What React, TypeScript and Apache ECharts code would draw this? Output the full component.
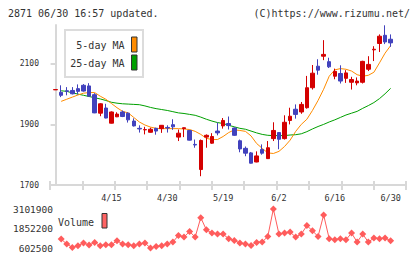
import React, { useEffect, useRef } from "react";
import * as echarts from "echarts";

// Trading days; index 0 is the carry-over day drawn left of the first full day.
const dates = [
  "4/1",
  "4/2", "4/3", "4/4", "4/7", "4/8", "4/9", "4/10", "4/11", "4/14", "4/15",
  "4/16", "4/17", "4/18", "4/21", "4/22", "4/23", "4/24", "4/25", "4/28", "4/30",
  "5/1", "5/2", "5/7", "5/8", "5/9", "5/12", "5/13", "5/14", "5/15", "5/19",
  "5/20", "5/21", "5/22", "5/23", "5/26", "5/27", "5/28", "5/29", "5/30", "6/2",
  "6/3", "6/4", "6/5", "6/6", "6/9", "6/10", "6/11", "6/12", "6/13", "6/16",
  "6/17", "6/18", "6/19", "6/20", "6/23", "6/24", "6/25", "6/26", "6/27", "6/30",
];

const opens = [
  2014,
  2006, 2011, 2012, 2018, 2029, 2027, 1998, 1937, 1954, 1904,
  1925, 1941, 1937, 1911, 1887, 1882, 1874, 1887, 1886, 1890,
  1899, 1858, 1886, 1880, 1834, 1751, 1858, 1838, 1878, 1895,
  1903, 1888, 1846, 1821, 1806, 1776, 1817, 1787, 1853, 1873,
  1853, 1913, 1950, 1941, 1955, 2021, 2092, 2125, 2107, 2059,
  2068, 2052, 2039, 2037, 2039, 2082, 2146, 2167, 2194, 2181,
];
const closes = [
  2015,
  1996, 2009, 2001, 2009, 2010, 1993, 1938, 1968, 1921, 1941,
  1934, 1926, 1915, 1895, 1885, 1883, 1884, 1878, 1897, 1888,
  1892, 1871, 1889, 1848, 1832, 1847, 1864, 1860, 1872, 1913,
  1896, 1864, 1819, 1805, 1772, 1796, 1805, 1823, 1880, 1851,
  1907, 1927, 1933, 1966, 2021, 2069, 2079, 2131, 2090, 2075,
  2043, 2070, 2048, 2043, 2108, 2098, 2148, 2191, 2172, 2169,
];
const lows = [
  2014,
  1990, 1996, 1999, 1999, 2008, 1993, 1937, 1927, 1920, 1903,
  1924, 1924, 1906, 1893, 1873, 1867, 1873, 1866, 1872, 1873,
  1882, 1845, 1858, 1847, 1823, 1729, 1823, 1836, 1864, 1886,
  1883, 1862, 1808, 1795, 1771, 1775, 1800, 1786, 1845, 1818,
  1850, 1900, 1919, 1935, 1952, 2015, 2064, 2112, 2086, 2049,
  2035, 2037, 2015, 2029, 2035, 2076, 2109, 2139, 2165, 2156,
];
const highs = [
  2015,
  2029, 2023, 2023, 2032, 2033, 2036, 2003, 1970, 1968, 1943,
  1940, 1946, 1940, 1920, 1897, 1892, 1889, 1889, 1898, 1897,
  1917, 1883, 1890, 1882, 1850, 1850, 1867, 1871, 1906, 1921,
  1926, 1890, 1850, 1827, 1809, 1811, 1834, 1845, 1907, 1874,
  1930, 1955, 1966, 1974, 2060, 2096, 2115, 2178, 2120, 2084,
  2095, 2079, 2057, 2055, 2110, 2125, 2158, 2197, 2227, 2197,
];

// Moving averages and volume start on the first full day (index 1).
const ma5 = [
  1976, 1983, 1990, 1997, 2003, 2005, 2005, 1993, 1983, 1969,
  1955, 1943, 1938, 1923, 1908, 1898, 1891, 1887, 1886, 1886,
  1886, 1886, 1885, 1883, 1877, 1867, 1854, 1850, 1850, 1860,
  1873, 1882, 1880, 1877, 1862, 1837, 1821, 1806, 1804, 1811,
  1827, 1848, 1877, 1900, 1917, 1946, 1979, 2016, 2059, 2080,
  2084, 2082, 2076, 2064, 2059, 2062, 2072, 2103, 2135, 2160,
];
const ma25 = [
  2011, 2009, 2004, 2000, 1996, 1992, 1988, 1984, 1979, 1973,
  1970, 1968, 1967, 1966, 1965, 1961, 1956, 1952, 1949, 1946,
  1942, 1938, 1936, 1933, 1930, 1924, 1917, 1911, 1906, 1903,
  1897, 1892, 1887, 1884, 1878, 1872, 1867, 1864, 1863, 1863,
  1863, 1865, 1866, 1869, 1876, 1885, 1893, 1900, 1908, 1915,
  1923, 1931, 1937, 1943, 1953, 1962, 1972, 1985, 2001, 2019,
];
const volumes = [
  1175000, 857000, 640000, 749000, 920000, 793000, 959000, 749000, 812000, 812000,
  1067000, 857000, 812000, 749000, 857000, 920000, 602500, 704000, 749000, 857000,
  984000, 1404000, 1302000, 1658000, 1302000, 2549000, 1766000, 1556000, 1493000, 1493000,
  1194000, 1086000, 920000, 857000, 768000, 959000, 984000, 1340000, 3101900, 1493000,
  1556000, 1620000, 1302000, 1493000, 2040000, 1703000, 1340000, 2720000, 1194000, 1130000,
  1194000, 1130000, 1556000, 984000, 1493000, 984000, 1238000, 1194000, 1238000, 1067000,
];

const priceTicks = [1700, 1900, 2100];
const volumeTicks = [602500, 1852200, 3101900];
const dateLabelIdx = [10, 20, 30, 40, 50, 60];

const UP = "#d40000";
const DOWN = "#4242bd";
const MA5_COLOR = "#ff8c00";
const MA25_COLOR = "#00a000";
const VOL_COLOR = "#ff5c5c";
const AXIS = "#d8d8d8";
const TEXT = "#333";
const MONO = '"DejaVu Sans Mono", "Liberation Mono", monospace';

const X_MIN = -1;
const X_MAX = 62.75;
const xTicks = Array.from({ length: 12 }, (_, k) => X_MIN + (k * (X_MAX - X_MIN)) / 11);

const plain = (v: number) => String(Math.round(v));

export default function App() {
  const ref = useRef<HTMLDivElement>(null);

  useEffect(() => {
    if (!ref.current) return;
    const chart = echarts.init(ref.current, undefined, { renderer: "svg" });

    const candles = dates.map((_, i) => [i, opens[i], closes[i], lows[i], highs[i]]);
    const ma5Data = ma5.map((v, i) => [i + 1, v]);
    const ma25Data = ma25.map((v, i) => [i + 1, v]);
    const volData = volumes.map((v, i) => [i + 1, v]);

    chart.setOption({
      animation: false,
      backgroundColor: "#fff",
      grid: [
        { left: 50, top: 25, width: 356, height: 160 },
        { left: 50, top: 209, width: 356, height: 39 },
      ],
      xAxis: [
        {
          type: "value",
          gridIndex: 0,
          min: X_MIN,
          max: X_MAX,
          axisLine: { show: true, lineStyle: { color: AXIS, width: 2 } },
          axisTick: { show: true, customValues: xTicks, length: 5, lineStyle: { color: AXIS, width: 2 } },
          axisLabel: {
            customValues: dateLabelIdx,
            formatter: (v: number) => dates[Math.round(v)] ?? "",
            fontFamily: MONO,
            fontSize: 8.5,
            color: TEXT,
            margin: 8,
          },
          splitLine: { show: false },
        },
        {
          type: "value",
          gridIndex: 0,
          min: X_MIN,
          max: X_MAX,
          position: "bottom",
          axisLine: { show: false },
          axisTick: { show: true, inside: true, customValues: xTicks, length: 4, lineStyle: { color: AXIS, width: 2 } },
          axisLabel: { show: false },
          splitLine: { show: false },
        },
        {
          type: "value",
          gridIndex: 1,
          min: X_MIN,
          max: X_MAX,
          show: false,
        },
      ],
      yAxis: [
        {
          type: "value",
          gridIndex: 0,
          min: 1700,
          max: 2228,
          axisLine: { show: true, lineStyle: { color: AXIS, width: 2 } },
          axisTick: { show: true, customValues: priceTicks, length: 5, lineStyle: { color: AXIS, width: 2 } },
          axisLabel: {
            customValues: priceTicks,
            formatter: plain,
            fontFamily: MONO,
            fontSize: 8,
            color: TEXT,
            margin: 11,
          },
          splitLine: { show: false },
        },
        {
          type: "value",
          gridIndex: 0,
          min: 1700,
          max: 2228,
          axisLine: { show: false },
          axisTick: { show: true, inside: true, customValues: priceTicks, length: 3, lineStyle: { color: AXIS, width: 2 } },
          axisLabel: { show: false },
          splitLine: { show: false },
        },
        {
          type: "value",
          gridIndex: 1,
          min: 602500,
          max: 3101900,
          axisLine: { show: false },
          axisTick: { show: false },
          axisLabel: {
            customValues: volumeTicks,
            formatter: plain,
            fontFamily: MONO,
            fontSize: 9.5,
            color: TEXT,
            margin: -3,
          },
          splitLine: { show: false },
        },
      ],
      series: [
        {
          type: "candlestick",
          xAxisIndex: 0,
          yAxisIndex: 0,
          data: candles,
          encode: { x: 0, y: [1, 2, 3, 4] },
          barWidth: 4,
          itemStyle: {
            color: UP,
            color0: DOWN,
            borderColor: UP,
            borderColor0: DOWN,
            borderWidth: 1,
          },
        },
        {
          type: "line",
          xAxisIndex: 0,
          yAxisIndex: 0,
          data: ma25Data,
          showSymbol: false,
          lineStyle: { color: MA25_COLOR, width: 1 },
          z: 1,
        },
        {
          type: "line",
          xAxisIndex: 0,
          yAxisIndex: 0,
          data: ma5Data,
          showSymbol: false,
          lineStyle: { color: MA5_COLOR, width: 1 },
          z: 1,
        },
        {
          type: "line",
          xAxisIndex: 2,
          yAxisIndex: 2,
          data: volData,
          symbol: "diamond",
          symbolSize: 7,
          itemStyle: { color: VOL_COLOR },
          lineStyle: { color: VOL_COLOR, width: 1 },
        },
      ],
      graphic: [
        {
          type: "text",
          x: 8,
          y: 13,
          style: { text: "2871 06/30 16:57 updated.", font: `10px ${MONO}`, fill: TEXT, verticalAlign: "middle" },
        },
        {
          type: "text",
          x: 410,
          y: 13,
          style: { text: "(C)https://www.rizumu.net/", font: `10px ${MONO}`, fill: TEXT, align: "right", verticalAlign: "middle" },
        },
        {
          type: "rect",
          shape: { x: 65, y: 30, width: 78, height: 47 },
          style: { fill: "#fff", stroke: "#dcdcdc", lineWidth: 2 },
          z: 10,
        },
        {
          type: "text",
          x: 124.5,
          y: 45.5,
          style: { text: "5-day MA", font: `10px ${MONO}`, fill: TEXT, align: "right", verticalAlign: "middle" },
          z: 11,
        },
        {
          type: "text",
          x: 124.5,
          y: 63,
          style: { text: "25-day MA", font: `10px ${MONO}`, fill: TEXT, align: "right", verticalAlign: "middle" },
          z: 11,
        },
        {
          type: "rect",
          shape: { x: 131.5, y: 37, width: 5.5, height: 15 },
          style: { fill: MA5_COLOR, stroke: "#333", lineWidth: 1 },
          z: 11,
        },
        {
          type: "rect",
          shape: { x: 131.5, y: 55, width: 5.5, height: 15 },
          style: { fill: MA25_COLOR, stroke: "#333", lineWidth: 1 },
          z: 11,
        },
        {
          type: "text",
          x: 58,
          y: 222,
          style: { text: "Volume", font: `10px ${MONO}`, fill: TEXT, verticalAlign: "middle" },
        },
        {
          type: "rect",
          shape: { x: 102, y: 213.5, width: 5, height: 14.5 },
          style: { fill: "#ff6464", stroke: "#333", lineWidth: 1 },
        },
      ],
    });

    return () => chart.dispose();
  }, []);

  return (
    <div
      ref={ref}
      style={{ position: "fixed", left: 0, top: 0, width: 420, height: 259, background: "#fff" }}
    />
  );
}
